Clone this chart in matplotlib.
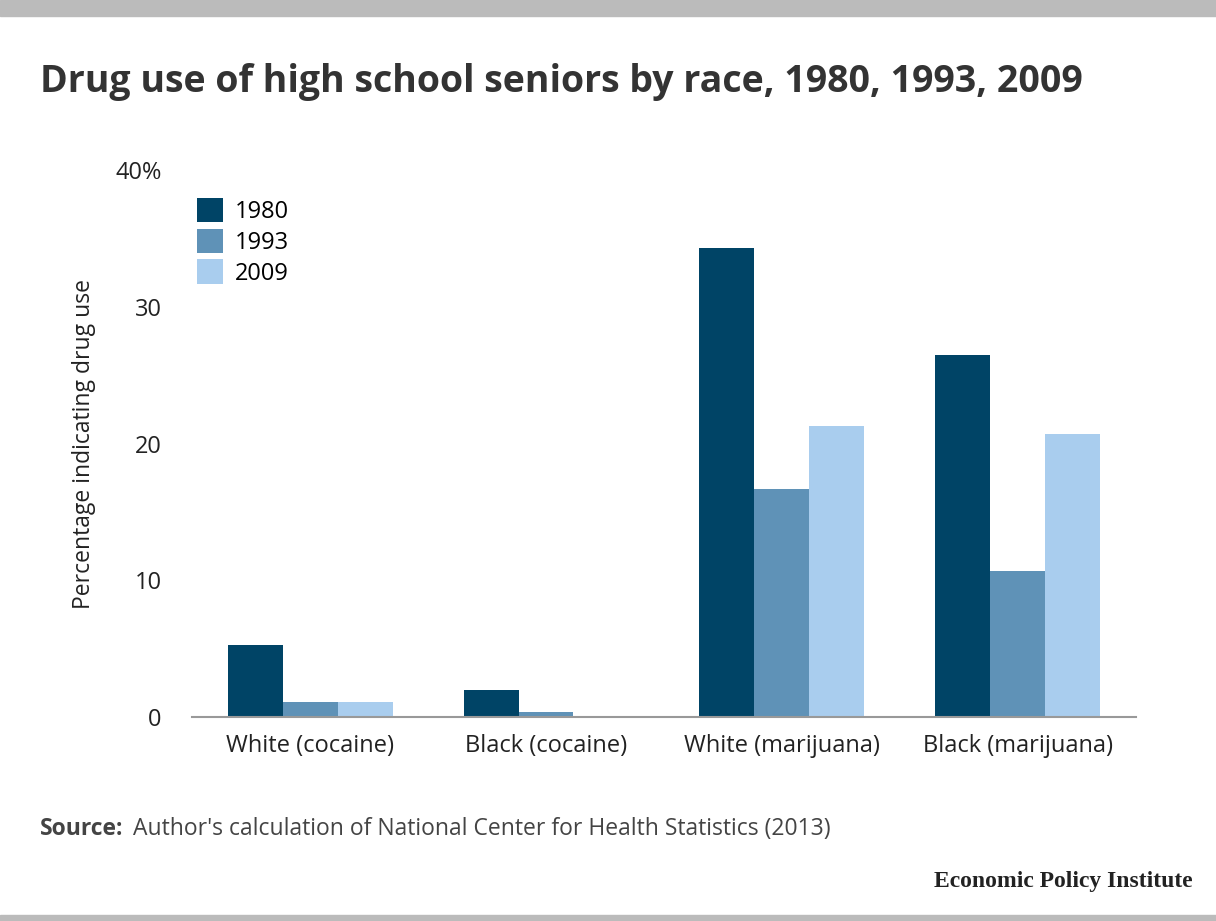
import numpy as np
import matplotlib
matplotlib.use("Agg")
import matplotlib.pyplot as plt
from matplotlib.patches import Rectangle

plt.rcParams['font.family'] = ['Open Sans', 'DejaVu Sans']

# Data
categories = ["White (cocaine)", "Black (cocaine)", "White (marijuana)", "Black (marijuana)"]
years = ["1980", "1993", "2009"]
v1980 = [5.3, 2.0, 34.3, 26.5]
v1993 = [1.1, 0.4, 16.7, 10.7]
v2009 = [1.1, 0.0, 21.3, 20.7]
colors = ["#004466", "#5f92b7", "#a9cdee"]

fig = plt.figure(figsize=(12.16, 9.21), dpi=100)
ax = fig.add_axes([0.158, 0.2215, 0.776, 0.5939])

x = np.arange(len(categories))
w = 0.233
for i, (vals, c, lab) in enumerate(zip([v1980, v1993, v2009], colors, years)):
    ax.bar(x + (i - 1) * w, vals, width=w, color=c, label=lab)

ax.set_xlim(-0.5, 3.5)
ax.set_ylim(0, 40)
ax.set_yticks([0, 10, 20, 30, 40])
ax.set_yticklabels(["0", "10", "20", "30", "40%"])
ax.set_xticks(x)
ax.set_xticklabels(categories)
ax.tick_params(length=0, labelsize=17, colors="#222222")
ax.tick_params(axis='y', pad=22)
ax.tick_params(axis='x', pad=12)
for s in ["top", "right", "left"]:
    ax.spines[s].set_visible(False)
ax.spines["bottom"].set_color("#999999")
ax.spines["bottom"].set_linewidth(1.5)
ax.set_ylabel("Percentage indicating drug use", fontsize=16.5, color="#222222", labelpad=14)

leg = ax.legend(loc="upper left", bbox_to_anchor=(-0.01, 0.975), frameon=False,
                fontsize=17, handlelength=1.1, handleheight=1.2, handletextpad=0.5,
                labelspacing=0.2, borderaxespad=0.2)

fig.text(40 / 1216, 1 - 82 / 921, "Drug use of high school seniors by race, 1980, 1993, 2009",
         fontsize=27, fontweight="bold", color="#333333", va="center")
fig.text(40 / 1216, 1 - 829 / 921, "Source:", fontsize=16.5, fontweight="bold",
         color="#444444", va="center")
fig.text(133 / 1216, 1 - 829 / 921, "Author's calculation of National Center for Health Statistics (2013)",
         fontsize=16.5, color="#444444", va="center")
fig.text(1193 / 1216, 1 - 881 / 921, "Economic Policy Institute", fontsize=17, fontweight="bold",
         family="Liberation Serif", color="#222222", ha="right", va="center")

fig.patches.append(Rectangle((0, 1 - 16 / 921), 1, 16 / 921, transform=fig.transFigure,
                             color="#bbbbbb", zorder=0))
fig.patches.append(Rectangle((0, 0), 1, 6 / 921, transform=fig.transFigure,
                             color="#bbbbbb", zorder=0))

fig.savefig("out.png", dpi=100)
